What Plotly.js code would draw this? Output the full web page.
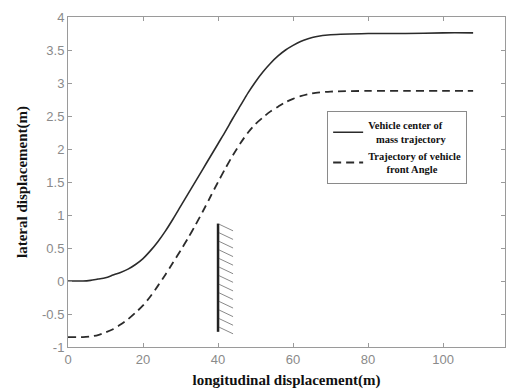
<!DOCTYPE html>
<html>
<head>
<meta charset="utf-8">
<script src="https://cdn.plot.ly/plotly-3.0.1.min.js"></script>
<style>html,body{margin:0;padding:0;background:#fff}#chart{width:506px;height:390px}</style>
</head>
<body>
<div id="chart"></div>
<script>
// Vehicle center of mass trajectory
var xCenter = [0, 4, 6, 8, 10, 12, 14, 16, 18, 20, 22, 24, 26, 28, 30, 32, 34, 36, 38, 40, 42, 44, 46, 48, 50, 52, 54, 56, 58, 60, 62, 64, 66, 70, 80, 90, 100, 108];
var yCenter = [0, 0, 0.01, 0.03, 0.05, 0.09, 0.13, 0.18, 0.25, 0.34, 0.46, 0.60, 0.76, 0.94, 1.13, 1.32, 1.51, 1.70, 1.89, 2.08, 2.27, 2.47, 2.66, 2.85, 3.02, 3.17, 3.30, 3.41, 3.50, 3.57, 3.63, 3.67, 3.70, 3.73, 3.75, 3.75, 3.76, 3.76];
// Trajectory of vehicle front angle
var xFront = [0, 4, 6, 8, 10, 12, 14, 16, 18, 20, 22, 24, 26, 28, 30, 32, 34, 36, 38, 40, 42, 44, 46, 48, 50, 52, 54, 56, 58, 60, 62, 64, 66, 70, 80, 90, 100, 108];
var yFront = [-0.85, -0.85, -0.84, -0.82, -0.78, -0.73, -0.66, -0.58, -0.48, -0.37, -0.23, -0.07, 0.10, 0.28, 0.46, 0.65, 0.85, 1.06, 1.28, 1.50, 1.71, 1.91, 2.09, 2.25, 2.38, 2.48, 2.57, 2.64, 2.71, 2.76, 2.80, 2.83, 2.85, 2.87, 2.88, 2.88, 2.88, 2.88];
// Obstacle (wall) at x = 40
var wallX = [40, 40];
var wallY = [0.87, -0.77];
var hatchStartY = [0.86, 0.73, 0.60, 0.47, 0.34, 0.21, 0.08, -0.05, -0.18, -0.31, -0.44, -0.57, -0.70];
var seriesNames = ["Vehicle center of<br>&nbsp;&nbsp;&nbsp;mass trajectory", "Trajectory of vehicle<br>&nbsp;&nbsp;&nbsp;&nbsp;&nbsp;&nbsp;&nbsp;front Angle"];
var xTicks = [0, 20, 40, 60, 80, 100];
var yTicks = [-1, -0.5, 0, 0.5, 1, 1.5, 2, 2.5, 3, 3.5, 4];

var hatchLen = 3.7, hatchDrop = 0.1;
var hx = [], hy = [];
hatchStartY.forEach(function (y) {
  hx.push(wallX[0] + 0.3, wallX[0] + 0.3 + hatchLen, null);
  hy.push(y, y - hatchDrop, null);
});

var traces = [
  {x: xCenter, y: yCenter, mode: 'lines', name: seriesNames[0], line: {color: '#2b2b2b', width: 1.6, shape: 'spline', smoothing: 0.8}},
  {x: xFront, y: yFront, mode: 'lines', name: seriesNames[1], line: {color: '#2b2b2b', width: 1.8, dash: '8px,5px', shape: 'spline', smoothing: 0.8}},
  {x: hx, y: hy, mode: 'lines', showlegend: false, hoverinfo: 'skip', line: {color: '#8a8a8a', width: 1}},
  {x: wallX, y: wallY, mode: 'lines', showlegend: false, hoverinfo: 'skip', line: {color: '#222', width: 2.5}}
];

var axisCommon = {
  showgrid: false, zeroline: false, showline: true, linecolor: '#9a9a9a', linewidth: 1,
  mirror: 'ticks', ticks: 'inside', ticklen: 4, tickcolor: '#9a9a9a',
  tickfont: {family: 'Liberation Sans, Arial, sans-serif', size: 13, color: '#8a8a8a'}
};

var layout = {
  width: 506, height: 390,
  margin: {l: 68, r: 1, t: 17, b: 43},
  paper_bgcolor: '#fff', plot_bgcolor: '#fff',
  showlegend: true,
  legend: {
    x: 0.593, y: 0.715, xanchor: 'left', yanchor: 'top',
    bordercolor: '#8a8a8a', borderwidth: 1, bgcolor: '#fff',
    font: {family: 'Liberation Serif, Times New Roman, serif', size: 10.5, color: '#111', weight: 'bold'},
    tracegroupgap: 0, itemwidth: 30
  },
  xaxis: Object.assign({}, axisCommon, {
    range: [0, 116.5], tickvals: xTicks, ticktext: xTicks.map(String),
    title: {text: 'longitudinal displacement(m)', standoff: 8,
      font: {family: 'Liberation Serif, Times New Roman, serif', size: 15, color: '#111', weight: 'bold'}}
  }),
  yaxis: Object.assign({}, axisCommon, {
    range: [-1, 4], tickvals: yTicks, ticktext: yTicks.map(String),
    title: {text: 'lateral displacement(m)', standoff: 10,
      font: {family: 'Liberation Serif, Times New Roman, serif', size: 15, color: '#111', weight: 'bold'}}
  })
};

Plotly.newPlot('chart', traces, layout, {displayModeBar: false, staticPlot: true});
</script>
</body>
</html>
